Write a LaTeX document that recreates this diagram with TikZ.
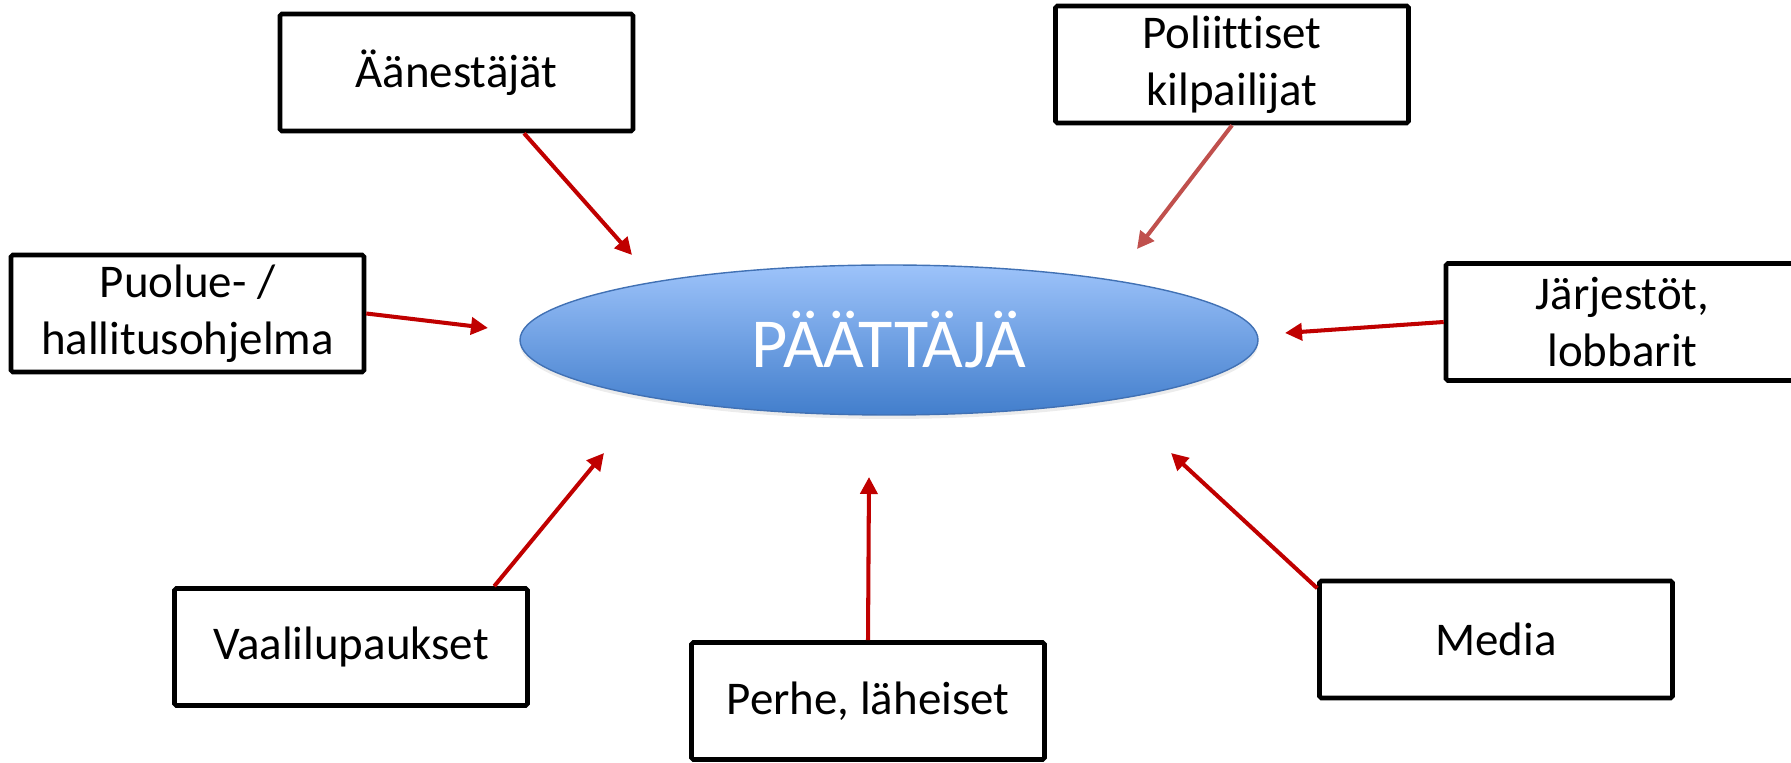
\documentclass[tikz,border=0pt]{standalone}
\usepackage{fontspec}
\setmainfont[Ligatures=NoCommon]{Carlito}
\usetikzlibrary{arrows.meta,shapes.geometric,shadows}

\definecolor{arrowred}{RGB}{192,0,0}
\definecolor{softred}{RGB}{192,80,77}
\definecolor{topblue}{RGB}{157,195,250}
\definecolor{botblue}{RGB}{66,126,204}
\definecolor{edgeblue}{RGB}{65,113,180}

\tikzset{
    infobox/.style={draw, line width=2.6pt, rounded corners=1pt, fill=white,
        minimum width=7.06cm, minimum height=2.34cm, align=center,
        font=\fontsize{26.7}{32.4}\selectfont},
    push/.style={line width=2.3pt, draw=arrowred,
        -{Triangle[length=0.34cm,width=0.34cm]}},
}

\begin{document}
\begin{tikzpicture}
        % Define canvas
        \useasboundingbox (0,0) rectangle (35.82,15.24);
    
        % Central ellipse
        \node[ellipse, draw=edgeblue, line width=0.8pt,
              top color=topblue, bottom color=botblue,
              drop shadow={shadow xshift=0pt, shadow yshift=-0.08cm, opacity=0.15},
              minimum width=14.76cm, minimum height=3cm, inner sep=0pt,
              text=white, font=\fontsize{40}{48}\selectfont]
              (dec) at (17.78,8.44) {PÄÄTTÄJÄ};
    
        % Define the surrounding boxes
        \foreach \name/\x/\y/\txt in {aan/9.13/13.79/Äänestäjät,
                                      pol/24.64/13.95/{Poliittiset\\kilpailijat},
                                      puo/3.75/8.97/{Puolue- /\\hallitusohjelma},
                                      jar/32.45/8.80/{Järjestöt,\\lobbarit},
                                      vaa/7.02/2.30/Vaalilupaukset,
                                      per/17.36/1.22/{Perhe, läheiset},
                                      med/29.92/2.45/Media}
        {
            \node[infobox] (\name) at (\x,\y) {\txt};
        }
    
        % Arrow tips next to the ellipse
        \coordinate (eA) at (12.64,10.14);
        \coordinate (eP) at (22.74,10.26);
        \coordinate (eU) at (9.76,8.68);
        \coordinate (eJ) at (25.70,8.58);
        \coordinate (eV) at (12.08,6.18);
        \coordinate (eH) at (17.38,5.70);
        \coordinate (eM) at (23.42,6.18);
    
        % Draw arrows
        \foreach \src/\dst in {aan.-42/eA, puo.east/eU, jar.west/eJ,
                               vaa.23/eV, per.north/eH, med.164/eM}
            \draw[push] (\src) -- (\dst);
        \draw[push, draw=softred] (pol.south) -- (eP);
\end{tikzpicture}
\end{document}
